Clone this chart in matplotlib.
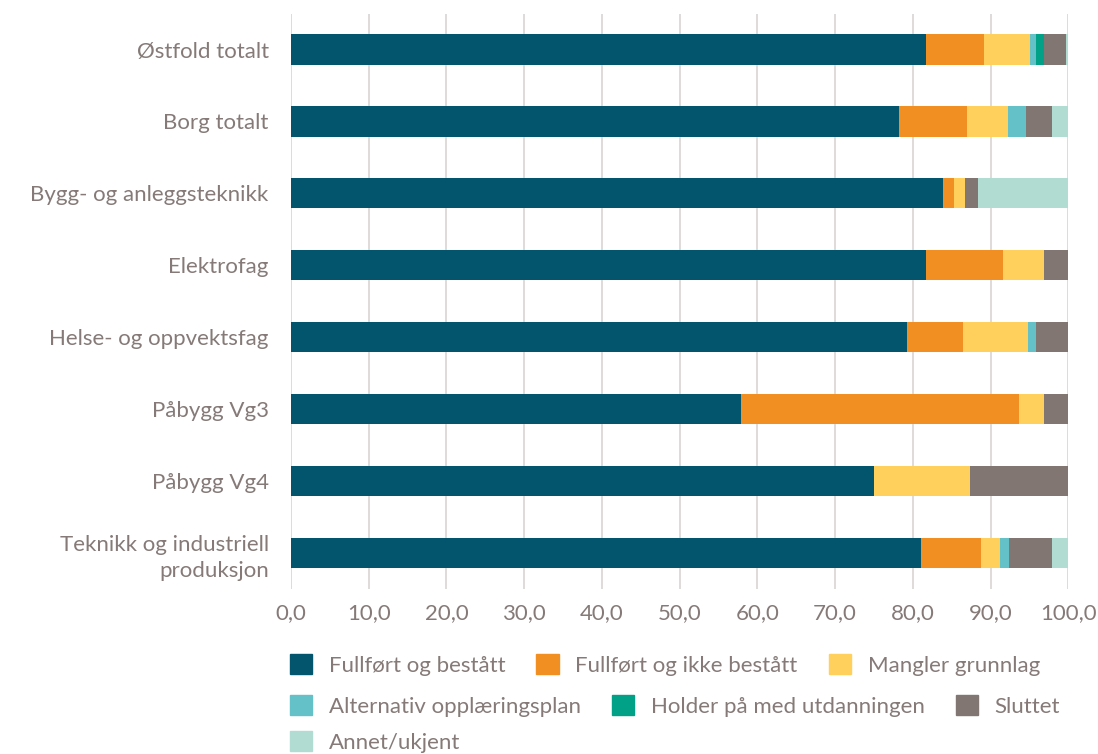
import numpy as np
import matplotlib.pyplot as plt
from matplotlib.patches import Patch

plt.rcParams['font.family'] = ['Lato', 'DejaVu Sans']

categories = ["Østfold totalt", "Borg totalt", "Bygg- og anleggsteknikk",
              "Elektrofag", "Helse- og oppvektsfag", "Påbygg Vg3",
              "Påbygg Vg4", "Teknikk og industriell\nproduksjon"]

series = ["Fullført og bestått", "Fullført og ikke bestått", "Mangler grunnlag",
          "Alternativ opplæringsplan", "Holder på med utdanningen", "Sluttet",
          "Annet/ukjent"]

fullfort_bestatt = [81.7, 78.2, 83.9, 81.7, 79.3, 57.9, 75.0, 81.1]
fullfort_ikke = [7.4, 8.8, 1.4, 9.9, 7.1, 35.8, 0.0, 7.7]
mangler = [6.0, 5.3, 1.4, 5.3, 8.4, 3.2, 12.4, 2.4]
alternativ = [0.7, 2.2, 0.0, 0.0, 1.1, 0.0, 0.0, 1.2]
holder = [1.1, 0.0, 0.0, 0.0, 0.0, 0.0, 0.0, 0.0]
sluttet = [2.8, 3.4, 1.7, 3.1, 4.1, 3.1, 12.6, 5.5]
annet = [0.3, 2.1, 11.6, 0.0, 0.0, 0.0, 0.0, 2.1]

values = [fullfort_bestatt, fullfort_ikke, mangler, alternativ, holder, sluttet, annet]
colors = ["#03556E", "#F28F22", "#FFD15C", "#64C1C7", "#00A186", "#827672", "#B1DCD1"]
textcol = "#857a77"
fs = 16

fig = plt.figure(figsize=(10.98, 7.54), dpi=100)
ax = fig.add_axes([0.265, 0.219, 0.708, 0.763])

y = np.arange(len(categories))
left = np.zeros(len(categories))
for vals, col, name in zip(values, colors, series):
    vals = np.array(vals)
    ax.barh(y, vals, left=left, height=0.42, color=col, label=name, zorder=3)
    left += vals

ax.set_ylim(len(categories) - 0.5, -0.5)
ax.set_xlim(0, 100)
ax.set_xticks(np.arange(0, 101, 10))
ax.set_xticklabels([f"{v:.1f}".replace(".", ",") for v in np.arange(0, 101, 10)])
ax.set_yticks(y)
ax.set_yticklabels(categories, linespacing=1.35)
ax.grid(axis="x", color="#d9d4d4", linewidth=1.2, zorder=0)
for s in ax.spines.values():
    s.set_visible(False)
ax.tick_params(axis="y", length=0, pad=16, labelsize=fs, labelcolor=textcol)
ax.tick_params(axis="x", length=0, pad=10, labelsize=fs, labelcolor=textcol)

# legend rows flow like the original
rows = [[0, 1, 2], [3, 4, 5], [6]]
row_y = [0.118, 0.064, 0.016]
for r, yy in zip(rows, row_y):
    handles = [Patch(color=colors[i], label=series[i]) for i in r]
    leg = fig.legend(handles=handles, loc="center left", bbox_to_anchor=(0.264, yy),
                     ncol=len(r), frameon=False, fontsize=fs, handlelength=1.0,
                     handleheight=1.0, handletextpad=0.75, columnspacing=1.4,
                     borderaxespad=0, borderpad=0)
    for t in leg.get_texts():
        t.set_color(textcol)

fig.savefig("out.png", dpi=100)
